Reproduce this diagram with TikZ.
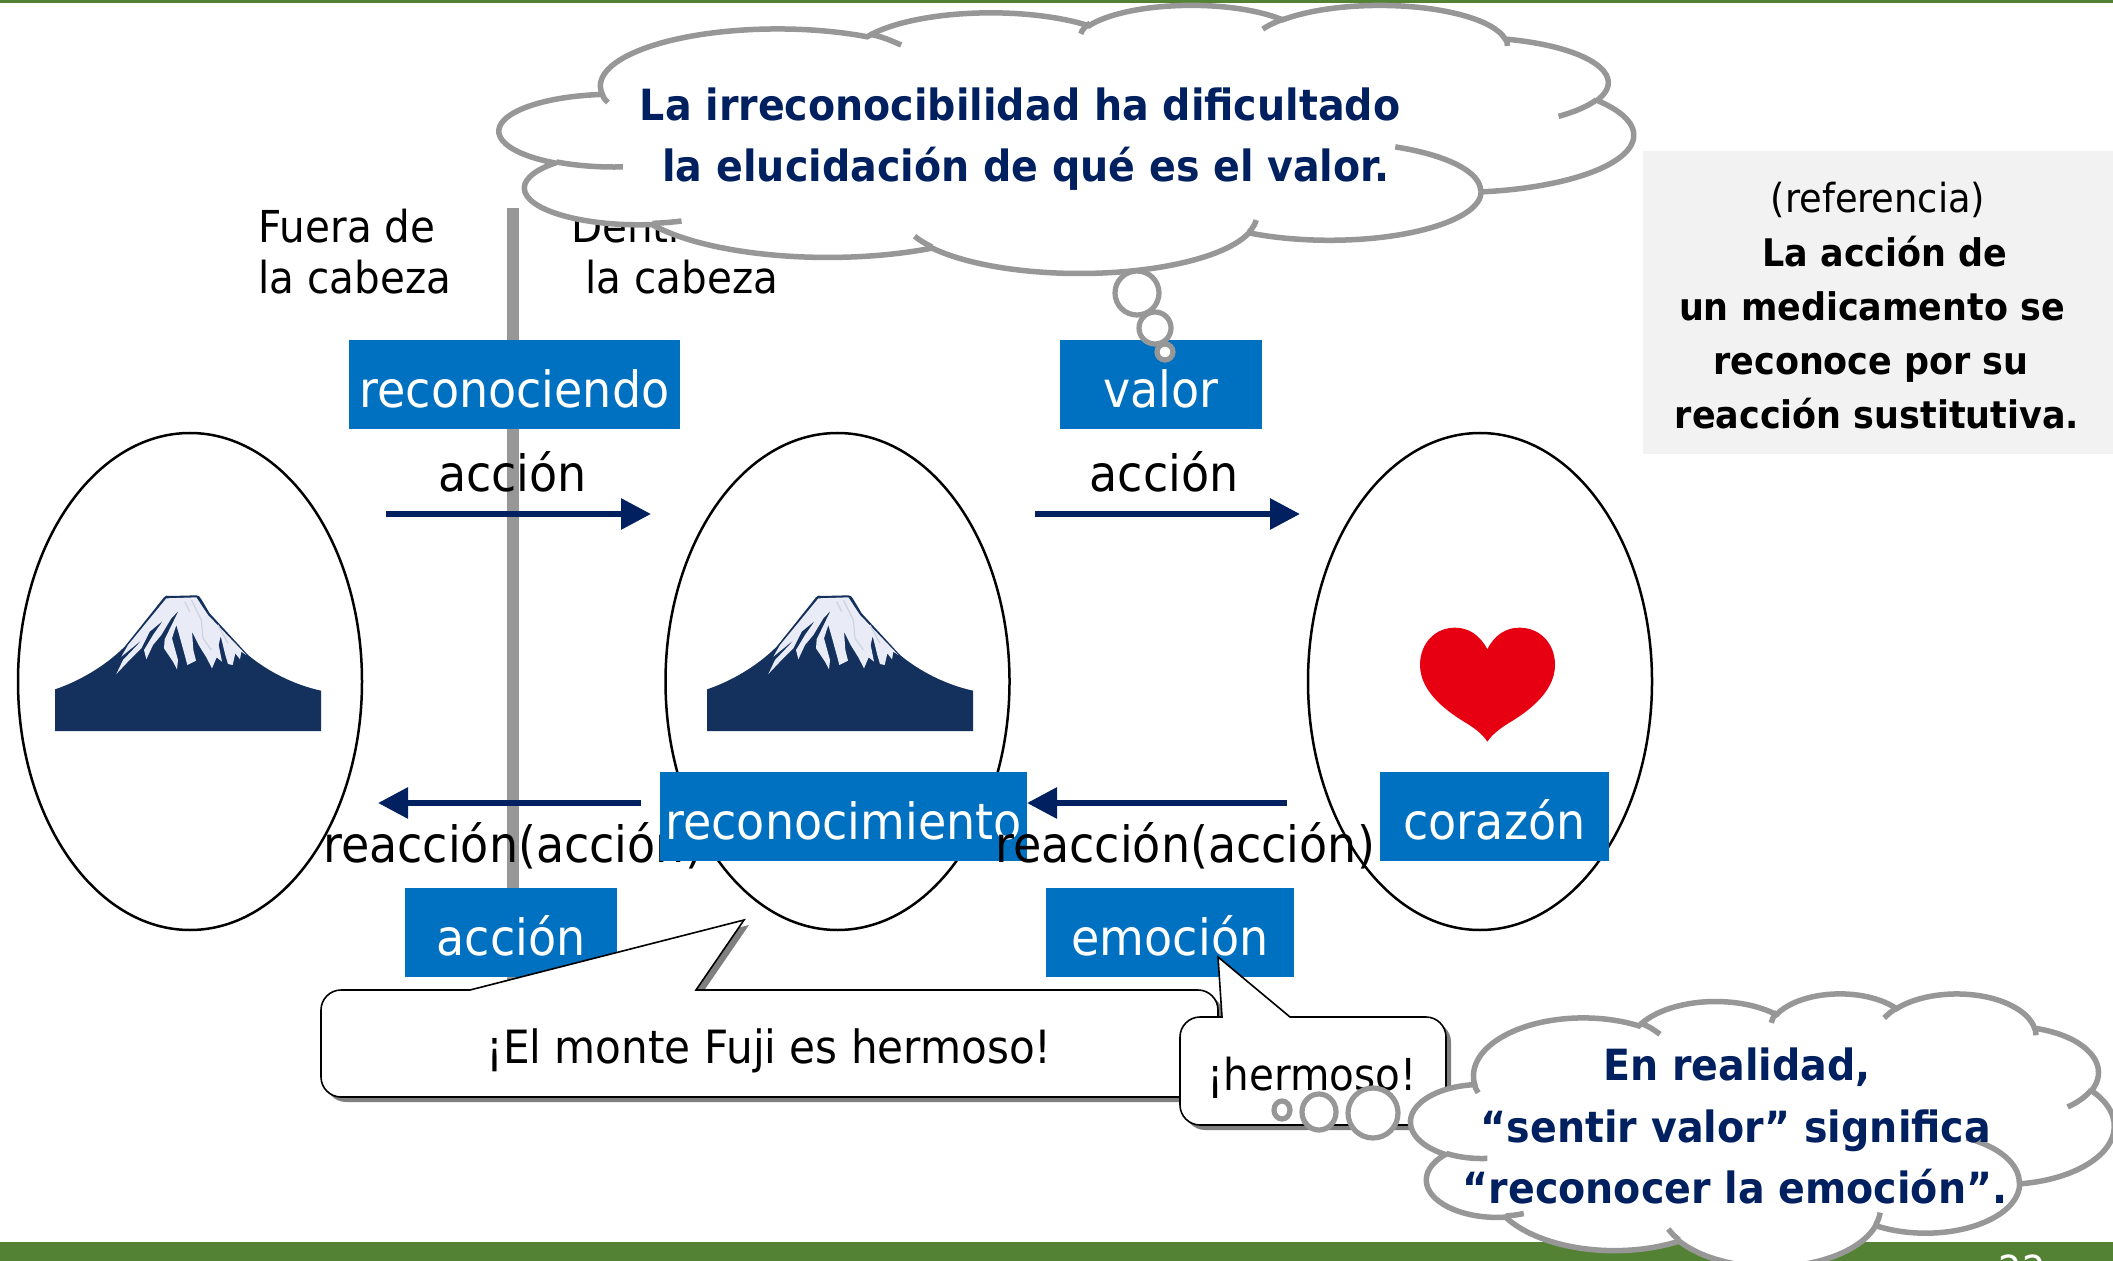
\documentclass[tikz,border=0pt]{standalone}
\usepackage{fontspec}
\setmainfont{DejaVu Sans}[FakeStretch=0.92]
\usetikzlibrary{arrows.meta,shapes.geometric}
\definecolor{barg}{HTML}{548235}
\definecolor{bluebx}{HTML}{0070C0}
\definecolor{navy}{HTML}{002060}
\definecolor{cgray}{HTML}{979797}
\definecolor{refbg}{HTML}{F2F2F2}
\definecolor{fujid}{HTML}{14305D}
\definecolor{fujis}{HTML}{E9ECF6}
\definecolor{fujil}{HTML}{CFD3DC}
\definecolor{heartr}{HTML}{E60012}
\definecolor{shad}{HTML}{7F7F7F}
\newcommand\fs[1]{\fontsize{#1}{#1}\selectfont}
\tikzset{
  bluebox/.style={fill=bluebx,text=white,inner sep=0pt,font=\fs{25},text height=24.7pt,text depth=2pt,align=center},
  lobe/.style={draw=black,line width=1.25pt,ellipse,inner sep=0pt,minimum width=172pt,minimum height=248.5pt},
  txt/.style={anchor=base,inner sep=0pt,font=\fs{22}},
  lab/.style={anchor=base,inner sep=0pt,font=\fs{25}},
  ctxt/.style={anchor=base,inner sep=0pt,text=navy,font=\bfseries\fs{21.5}},
  rtxt/.style={anchor=base,inner sep=0pt,font=\bfseries\fs{19}},
  arr/.style={draw=navy,line width=3pt,-{Triangle[length=15pt,width=15pt]}},
  cloudline/.style={draw=cgray,line width=2.75pt},
  bub/.style={draw=cgray,fill=white,line width=2.6pt,ellipse,inner sep=0pt},
  speech/.style={draw=black,fill=white,line width=0.8pt,line join=miter},
  speechsh/.style={fill=shad}
}
\newcommand\cloudarc[4]{\pgfextra{%
  \pgfmathsetmacro\cta{atan2(#1*sin(#3),#2*cos(#3))}%
  \pgfmathsetmacro\ctb{atan2(#1*sin(#3+#4),#2*cos(#3+#4))}%
  \pgfmathsetmacro\ctd{Mod(\ctb-\cta,360)}}%
  arc[start angle=\cta,delta angle=\ctd,x radius=#1,y radius=#2]}
\newcommand\cloudshape[4]{%
  \begin{scope}[shift={(#1,#2)},x=#3,y=#4]
  \path[cloudline,fill=white] (39.00,143.70)
    \cloudarc{67.53}{91.90}{-190.4875}{123.7805}
    \cloudarc{53.33}{72.67}{-144.1024}{89.9452}
    \cloudarc{43.65}{59.45}{-145.8079}{99.7230}
    \cloudarc{48.57}{65.95}{-130.9861}{117.2417}
    \cloudarc{53.33}{72.73}{-78.7089}{109.0269}
    \cloudarc{67.75}{92.20}{-46.2673}{130.2690}
    \cloudarc{57.85}{78.67}{0.6250}{114.0333}
    \cloudarc{67.52}{92.15}{22.4516}{115.1726}
    \cloudarc{77.20}{105.43}{66.2426}{75.7110}
    \cloudarc{43.60}{59.18}{-274.9421}{146.7356}
    \cloudarc{43.45}{59.45}{-246.8285}{152.5189}
    -- cycle;
  \path[cloudline] (46.93,261.77) \cloudarc{43.45}{59.45}{86.742}{26.4295};
  \path[cloudline] (69.28,348.99) \cloudarc{43.60}{59.18}{73.6105}{11.4475};
  \path[cloudline] (164.78,390.90) \cloudarc{67.52}{92.15}{137.6242}{14.0811};
  \path[cloudline] (288.27,347.51) \cloudarc{67.52}{92.15}{6.4533}{15.9984};
  \path[cloudline] (341.29,229.54) \cloudarc{57.85}{78.67}{-70.2924}{70.9174};
  \path[cloudline] (417.98,153.54) \cloudarc{53.33}{72.73}{30.3180}{27.7515};
  \path[cloudline] (383.24,54.26) \cloudarc{48.57}{65.95}{-13.7443}{14.8589};
  \path[cloudline] (290.78,39.52) .. controls (292.5,35) and (295,29) .. (299,23);
  \path[cloudline] (221.41,47.20) .. controls (222,41) and (223,35) .. (225,30);
  \path[cloudline] (141,47.90) .. controls (146,52) and (149,58) .. (153,65.30);
  \path[cloudline] (39.00,143.70) .. controls (39.2,149) and (40,153) .. (41.27,157.89);
  \end{scope}}
\newcommand\fujipic[2]{%
  \begin{scope}[shift={(#1,#2)},x=.16667pt,y=-.16667pt]
  \fill[fujid] (81,483) -- (81,358) .. controls (150,335) and (230,290) .. (290,230)
    -- (408,82) .. controls (412,76) and (418,76) .. (425,78) -- (505,76) .. controls (512,76) and (516,80) .. (520,88)
    -- (545,130) -- (660,255) .. controls (720,305) and (800,345) .. (879,362) -- (879,483) -- cycle;
  \fill[fujis] (415,85) -- (505,82) -- (540,135) -- (655,255) -- (640,245) -- (636,268) -- (622,250) -- (614,285)
    -- (600,282) -- (592,255) -- (578,198) -- (572,225) -- (582,275) -- (566,262) -- (552,295) -- (535,262)
    -- (512,225) -- (492,185) -- (496,240) -- (504,272) -- (478,285) -- (472,262) -- (455,200) -- (445,165)
    -- (432,205) -- (450,270) -- (447,298) -- (435,275) -- (408,235) -- (410,208) -- (452,122) -- (430,145)
    -- (400,195) -- (375,225) -- (355,268) -- (348,240) -- (375,195) -- (405,152) -- (365,185) -- (340,235)
    -- (300,275) -- (265,312) -- (285,270) -- (345,207) -- (280,260) -- (300,225) -- cycle;
  \draw[fujil,line width=.6pt] (470,95) -- (485,125) (490,90) -- (520,150) -- (525,205) -- (550,240) (570,165) -- (600,220);
  \end{scope}}
\begin{document}
\begin{tikzpicture}[x=.5pt,y=-.5pt]
\useasboundingbox (0,0) rectangle (2113,1261);
\clip (0,0) rectangle (2113,1261);
\fill[white] (0,0) rectangle (2113,1261);
\fill[barg] (0,0) rectangle (2113,3);
\fill[barg] (0,1242) rectangle (2113,1261);
\node[white,anchor=base,inner sep=0pt,font=\fs{20}] (pg) at (2022,1284) {22};
% reference panel
\fill[refbg] (1643,151) rectangle (2113,454);
\node[anchor=base,inner sep=0pt,font=\fs{20}] (r1) at (1878,213) {(referencia)};
\node[rtxt] (r2) at (1885,267) {La acción de};
\node[rtxt] (r3) at (1872,321) {un medicamento se};
\node[rtxt] (r4) at (1871,375) {reconoce por su};
\node[rtxt] (r5) at (1877,429) {reacción sustitutiva.};
% ovals
\node[lobe] (ovA) at (190,681.5) {};
\node[lobe] (ovB) at (837.5,681.5) {};
\node[lobe] (ovC) at (1480,681.5) {};
\fujipic{28}{570}
\fujipic{680}{570}
\begin{scope}[shift={(1380,600)},x=.16667pt,y=-.16667pt]
\fill[heartr] (322,148) .. controls (300,105) and (265,83) .. (225,83)
  .. controls (165,83) and (120,130) .. (120,195) .. controls (120,280) and (210,340) .. (260,370)
  .. controls (285,385) and (310,405) .. (322,425) .. controls (335,405) and (360,385) .. (385,370)
  .. controls (435,340) and (525,280) .. (525,195) .. controls (525,130) and (480,83) .. (418,83)
  .. controls (378,83) and (343,105) .. (322,148) -- cycle;
\end{scope}
% divider
\coordinate (divT) at (513,208);
\coordinate (divB) at (513,990);
\draw[cgray,line width=6pt] (divT) -- (divB);
\node[txt] (fa) at (347,243) {Fuera de};
\node[txt] (fb) at (355,294) {la cabeza};
\node[txt] (da) at (672,243) {Dentro de};
\node[txt] (db) at (682,294) {la cabeza};
% labels and arrows
\node[lab] (accA) at (512.5,492) {acción};
\node[lab] (accB) at (1164,492) {acción};
\node[lab] (reaA) at (513,862) {reacción(acción)};
\coordinate (a1s) at (386,514); \coordinate (a1e) at (651,514);
\coordinate (a2s) at (1035,514); \coordinate (a2e) at (1300,514);
\coordinate (a3s) at (641,803); \coordinate (a3e) at (378,803);
\coordinate (a4s) at (1287,803); \coordinate (a4e) at (1027,803);
\draw[arr] (a1s) -- (a1e);
\draw[arr] (a2s) -- (a2e);
\draw[arr] (a3s) -- (a3e);
% blue boxes
\node[bluebox,minimum width=165.5pt,minimum height=44.5pt] (bRec) at (514.5,384.5) {reconociendo};
\node[bluebox,minimum width=101pt,minimum height=44.5pt] (bVal) at (1161,384.5) {valor};
\node[bluebox,minimum width=183.5pt,minimum height=44.5pt] (bRcm) at (843.5,816.5) {reconocimiento};
\node[bluebox,minimum width=114.5pt,minimum height=44.5pt] (bCor) at (1494.5,816.5) {corazón};
\node[bluebox,minimum width=106pt,minimum height=44.5pt] (bAcc) at (511,932.5) {acción};
\node[bluebox,minimum width=124pt,minimum height=44.5pt] (bEmo) at (1170,932.5) {emoción};
\draw[arr] (a4s) -- (a4e);
\node[lab] (reaB) at (1185,862) {reacción(acción)};
% speech 1
\begin{scope}[shift={(5,5)}]
\fill[speechsh] (321,1010) .. controls (321,999) and (330,990) .. (341,990) -- (470,990) -- (744,920) -- (696,990) -- (1198,990)
  .. controls (1209,990) and (1218,999) .. (1218,1010) -- (1218,1077) .. controls (1218,1088) and (1209,1097) .. (1198,1097)
  -- (341,1097) .. controls (330,1097) and (321,1088) .. (321,1077) -- cycle;
\end{scope}
\path[speech] (321,1010) .. controls (321,999) and (330,990) .. (341,990) -- (470,990) -- (744,920) -- (696,990) -- (1198,990)
  .. controls (1209,990) and (1218,999) .. (1218,1010) -- (1218,1077) .. controls (1218,1088) and (1209,1097) .. (1198,1097)
  -- (341,1097) .. controls (330,1097) and (321,1088) .. (321,1077) -- cycle;
\node[anchor=base,inner sep=0pt,font=\fs{22.9}] (sp1) at (769,1063) {¡El monte Fuji es hermoso!};
% speech 2
\begin{scope}[shift={(5,5)}]
\fill[speechsh] (1180,1037) .. controls (1180,1026) and (1189,1017) .. (1200,1017) -- (1222,1017) -- (1218,957) -- (1290,1017) -- (1426,1017)
  .. controls (1437,1017) and (1446,1026) .. (1446,1037) -- (1446,1105) .. controls (1446,1116) and (1437,1125) .. (1426,1125)
  -- (1200,1125) .. controls (1189,1125) and (1180,1116) .. (1180,1105) -- cycle;
\end{scope}
\path[speech] (1180,1037) .. controls (1180,1026) and (1189,1017) .. (1200,1017) -- (1222,1017) -- (1218,957) -- (1290,1017) -- (1426,1017)
  .. controls (1437,1017) and (1446,1026) .. (1446,1037) -- (1446,1105) .. controls (1446,1116) and (1437,1125) .. (1426,1125)
  -- (1200,1125) .. controls (1189,1125) and (1180,1116) .. (1180,1105) -- cycle;
\node[txt] (sp2) at (1312,1090) {¡hermoso!};
% thought cloud, top
\cloudshape{499.7}{4.5}{1.31204pt}{-.31019pt}
\node[bub,minimum width=22pt,minimum height=22pt] (t1a) at (1137,293) {};
\node[bub,minimum width=16pt,minimum height=16pt] (t1b) at (1155,328) {};
\node[bub,minimum width=8pt,minimum height=8pt] (t1c) at (1165,352) {};
\node[ctxt] (c1a) at (1020,121) {La irreconocibilidad ha dificultado};
\node[ctxt] (c1b) at (1026,182) {la elucidación de qué es el valor.};
% thought cloud, bottom
\node[bub,minimum width=8pt,minimum height=9pt] (t2c) at (1282,1110) {};
\node[bub,minimum width=17pt,minimum height=18pt] (t2b) at (1319,1112) {};
\node[bub,minimum width=25pt,minimum height=25pt] (t2a) at (1373,1113) {};
\cloudshape{1411}{993}{.81366pt}{-.31597pt}
\node[ctxt] (c2a) at (1737,1080) {En realidad,};
\node[ctxt] (c2b) at (1736,1142) {“sentir valor” significa};
\node[ctxt] (c2c) at (1735,1203) {“reconocer la emoción”.};
\end{tikzpicture}
\end{document}
